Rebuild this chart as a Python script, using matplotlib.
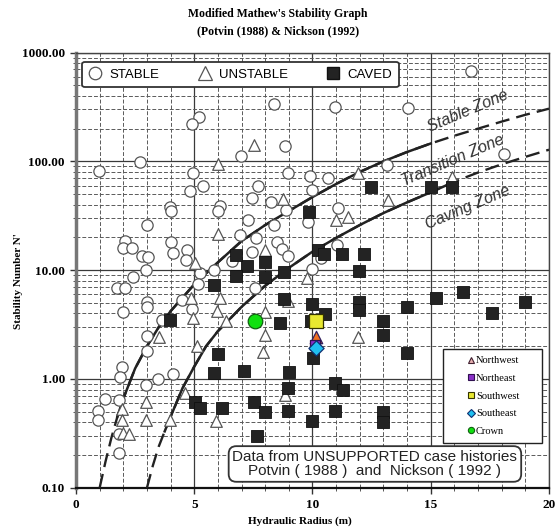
import matplotlib
matplotlib.use('Agg')
import matplotlib.pyplot as plt
from matplotlib.lines import Line2D
from matplotlib.patches import Rectangle
from matplotlib.ticker import LogLocator, NullFormatter, FixedLocator
from matplotlib.font_manager import FontProperties

# ---------------- data ----------------
stable_hr = [5.21, 4.9, 2.71, 0.99, 4.96, 5.38, 4.82, 6.99, 8.37, 10.95, 14.03, 8.84, 8.98, 9.9,
             10.64, 13.14, 7.71, 9.97, 7.45, 16.7, 18.1, 8.25, 6.08, 6.02, 3.97, 4.0, 8.87, 3.0,
             7.29, 6.95, 7.6, 8.37, 8.48, 8.72, 8.98, 7.43, 6.6, 2.07, 1.97, 2.38, 4.0, 4.09,
             2.78, 3.06, 4.68, 4.64, 2.96, 2.4, 1.72, 2.07, 5.24, 5.85, 5.15, 2.99, 2.99, 2.0,
             4.5, 4.92, 3.62, 2.99, 3.0, 7.57, 9.82, 11.06, 11.02, 10.36, 9.96, 1.93, 1.86, 2.96,
             3.48, 4.11, 1.23, 1.83, 0.94, 0.94, 1.83, 1.83]
stable_n = [257, 220, 98, 82, 79, 60, 53, 112, 337, 314, 308, 139, 79, 73,
            71, 92, 60, 54, 46, 680, 116, 42, 39, 35, 38, 35, 35.5, 26,
            29, 21, 19.6, 26, 18.1, 15.6, 13.5, 14.8, 12.1, 18.6, 16, 16, 18.3, 14.3,
            13.4, 13.1, 15.3, 12.3, 10, 8.7, 6.8, 6.8, 9.4, 10.1, 7.4, 5.1, 4.6, 4.15,
            5.3, 4.4, 3.5, 2.5, 1.82, 6.9, 28, 37.5, 17, 12.9, 10.3, 1.28, 1.04, 0.88,
            1.0, 1.1, 0.66, 0.64, 0.51, 0.42, 0.21, 0.31]

unstable_hr = [5.99, 7.54, 11.94, 8.77, 13.2, 15.9, 10.98, 11.51, 7.99, 9.75, 7.99, 7.99,
               11.94, 8.97, 6.02, 5.03, 4.86, 6.09, 5.95, 6.33, 4.96, 3.5, 5.1, 7.92, 1.93,
               1.93, 2.0, 2.26, 2.96, 2.96, 3.97, 4.61, 5.9, 8.84]
unstable_n = [94, 141, 78, 45, 44, 72, 29, 31, 15.4, 8.4, 4.15, 2.54,
              2.45, 5.2, 21.6, 11.6, 5.6, 5.6, 4.2, 3.4, 3.6, 2.45, 2.0, 1.78, 0.53,
              0.42, 0.32, 0.31, 0.62, 0.42, 0.42, 0.74, 0.41, 0.71]

caved_hr = [12.47, 15.0, 15.9, 16.38, 18.98, 17.6, 15.22, 13.98, 9.85, 10.22, 10.47, 11.26,
            12.18, 11.98, 7.99, 7.25, 7.99, 8.81, 8.78, 9.99, 10.53, 11.98, 11.98, 8.63, 9.92,
            12.97, 12.97, 6.75, 6.78, 5.83, 3.97, 6.02, 5.83, 7.1, 5.03, 5.24, 6.16, 10.03,
            13.98, 9.0, 8.98, 10.95, 11.3, 7.54, 7.99, 8.95, 10.95, 10.0, 12.97, 12.97, 7.64]
caved_n = [58, 58, 58, 6.3, 5.1, 4.0, 5.5, 4.6, 34.5, 15.3, 14.0, 14.0,
           14.0, 9.8, 12.0, 11.0, 8.7, 9.6, 5.4, 4.9, 3.96, 5.1, 4.3, 3.25, 3.4,
           3.4, 2.54, 13.9, 8.85, 7.3, 3.5, 1.7, 1.14, 1.18, 0.62, 0.54, 0.54, 1.55,
           1.75, 1.17, 0.82, 0.92, 0.79, 0.62, 0.5, 0.51, 0.51, 0.41, 0.5, 0.4, 0.3]

# site observations
site_names = ['Northwest', 'Northeast', 'Southwest', 'Southeast', 'Crown']
site_hr = [10.13, 10.1, 10.13, 10.13, 7.57]
site_n = [2.45, 2.05, 3.44, 1.91, 3.4]

# zone boundary curves
upper_hr = [1.0, 1.25, 1.5, 1.75, 2.0, 2.5, 3.0, 3.5, 4.0, 5.0, 6.0, 7.0, 8.0, 9.0, 10.0,
            11.0, 12.0, 13.0, 14.0, 15.0, 16.0, 17.0, 18.0, 19.0, 20.0]
upper_n = [0.10, 0.175, 0.29, 0.45, 0.66, 1.25, 2.0, 3.0, 4.2, 7.4, 11.8, 18.5, 26, 35, 47,
           62, 80, 100, 122, 146, 172, 200, 232, 268, 305]
lower_hr = [3.0, 3.25, 3.5, 3.75, 4.0, 4.5, 5.0, 5.5, 6.0, 7.0, 8.0, 9.0, 10.0, 11.0, 12.0,
            13.0, 14.0, 15.0, 16.0, 17.0, 18.0, 19.0, 20.0]
lower_n = [0.10, 0.16, 0.24, 0.33, 0.45, 0.82, 1.3, 2.0, 2.75, 4.6, 7.2, 10.5, 14.8, 19.8,
           26, 33.5, 42, 52, 65, 79, 94, 110, 128]

y_tick_vals = [0.1, 1, 10, 100, 1000]
y_tick_labels = ['0.10', '1.00', '10.00', '100.00', '1000.00']
x_tick_vals = [0, 5, 10, 15, 20]
x_tick_labels = ['0', '5', '10', '15', '20']

# ---------------- figure ----------------
SERIF = 'Liberation Serif'
SANS = 'Liberation Sans'

fig = plt.figure(figsize=(5.56, 5.31), dpi=100)
ax = fig.add_axes([0.1367, 0.0814, 0.8507, 0.8196])
ax.set_yscale('log')
ax.set_xlim(0, 20)
ax.set_ylim(0.1, 1000)

ax.set_xticks(x_tick_vals)
ax.set_xticklabels(x_tick_labels)
ax.xaxis.set_minor_locator(FixedLocator(list(range(0, 21))))
ax.set_yticks(y_tick_vals)
ax.set_yticklabels(y_tick_labels)
ax.yaxis.set_minor_locator(LogLocator(base=10, subs=range(2, 10)))
ax.yaxis.set_minor_formatter(NullFormatter())

ax.grid(which='major', color='#3a3a3a', lw=0.9, ls='-')
ax.grid(which='minor', color='#5a5a5a', lw=0.7, ls=(0, (4, 2)))
ax.set_axisbelow(True)

ax.tick_params(which='major', direction='out', length=4, width=1, color='#333', pad=4)
ax.tick_params(which='minor', direction='out', length=2, width=0.7, color='#555')
for lbl in ax.get_xticklabels() + ax.get_yticklabels():
    lbl.set_fontfamily(SERIF)
    lbl.set_fontweight('bold')
    lbl.set_fontsize(9.5)

ax.spines['left'].set_color('#777777')
ax.spines['left'].set_linewidth(2.5)
ax.spines['bottom'].set_color('#111111')
ax.spines['bottom'].set_linewidth(1.6)
for s in ('top', 'right'):
    ax.spines[s].set_color('#444444')
    ax.spines[s].set_linewidth(1.0)

# zone curves: dashed full, solid middle
ax.plot(upper_hr, upper_n, color='#222', lw=1.7, ls=(0, (6, 3)), zorder=3)
ax.plot(lower_hr, lower_n, color='#222', lw=1.7, ls=(0, (6, 3)), zorder=3)
us = [(h, n) for h, n in zip(upper_hr, upper_n) if 1.75 <= h <= 15.0]
ls_ = [(h, n) for h, n in zip(lower_hr, lower_n) if 3.75 <= h <= 16.0]
ax.plot([p[0] for p in us], [p[1] for p in us], color='#222', lw=1.8, zorder=3.1)
ax.plot([p[0] for p in ls_], [p[1] for p in ls_], color='#222', lw=1.8, zorder=3.1)

# data points
ax.scatter(stable_hr, stable_n, s=66, marker='o', facecolor='white', edgecolor='#555',
           linewidths=0.9, zorder=4)
ax.scatter(unstable_hr, unstable_n, s=70, marker='^', facecolor='white', edgecolor='#555',
           linewidths=0.9, zorder=4.2)
ax.scatter(caved_hr, caved_n, s=72, marker='s', facecolor='#232323', edgecolor='#111',
           linewidths=0.6, zorder=4.4)

site_style = {
    'Northwest': dict(marker='^', s=80, fc='#f07020', ec='#302060'),
    'Northeast': dict(marker='s', s=60, fc='#8a30c8', ec='#301050'),
    'Southwest': dict(marker='s', s=110, fc='#e8e830', ec='#333300'),
    'Southeast': dict(marker='D', s=60, fc='#20c0f0', ec='#103070'),
    'Crown': dict(marker='o', s=110, fc='#10e010', ec='#106010'),
}
order = ['Southwest', 'Northwest', 'Northeast', 'Southeast', 'Crown']
for nm in order:
    i = site_names.index(nm)
    st = site_style[nm]
    ax.scatter([site_hr[i]], [site_n[i]], marker=st['marker'], s=st['s'], facecolor=st['fc'],
               edgecolor=st['ec'], linewidths=0.9, zorder=5)

# top legend
h1 = [Line2D([], [], ls='', marker='o', ms=9, mfc='white', mec='#555', mew=0.9),
      Line2D([], [], ls='', marker='^', ms=10, mfc='white', mec='#555', mew=0.9),
      Line2D([], [], ls='', marker='s', ms=9, mfc='#232323', mec='#111')]
leg1 = ax.legend(h1, ['STABLE', 'UNSTABLE', 'CAVED'], loc='upper left',
                 bbox_to_anchor=(0.013, 0.979), ncol=3, frameon=True, fancybox=True,
                 prop=FontProperties(family=SANS, size=9.5), columnspacing=2.9,
                 handletextpad=0.6, borderpad=0.5, handlelength=1.0, borderaxespad=0)
fr = leg1.get_frame()
fr.set_edgecolor('#333')
fr.set_linewidth(1.3)
fr.set_facecolor('white')
fr.set_alpha(1)
leg1.set_zorder(6)
ax.add_artist(leg1)

# site legend: framed box + entries
ax.add_patch(Rectangle((0.776, 0.103), 0.209, 0.216, transform=ax.transAxes,
                       facecolor='white', edgecolor='#222', lw=1.0, zorder=5.9))
h2 = [Line2D([], [], ls='', marker='^', ms=4.5, mfc='#e8b0b0', mec='#402030', mew=0.8)]
for nm in site_names[1:]:
    st = site_style[nm]
    h2.append(Line2D([], [], ls='', marker=st['marker'], ms=4.5 if st['marker'] != 'D' else 3.8,
                     mfc=st['fc'], mec=st['ec'], mew=0.8))
leg2 = ax.legend(h2, site_names, loc='center', bbox_to_anchor=(0.883, 0.211),
                 frameon=False, prop=FontProperties(family=SERIF, size=7.5),
                 labelspacing=0.8, handlelength=0.6, handletextpad=0.15, borderpad=0.2,
                 borderaxespad=0)
leg2.set_zorder(6)

# bottom note
ax.text(0.632, 0.0547, 'Data from UNSUPPORTED case histories\nPotvin ( 1988 )  and  Nickson ( 1992 )',
        transform=ax.transAxes, ha='center', va='center', fontsize=11, family=SANS,
        color='#222', linespacing=1.0, zorder=6,
        bbox=dict(boxstyle='round,pad=0.25,rounding_size=0.5', fc='white', ec='#333', lw=1.3))

# zone labels
for txt, x, y in [('Stable Zone', 0.829, 0.865), ('Transition Zone', 0.797, 0.752),
                  ('Caving Zone', 0.828, 0.645)]:
    ax.text(x, y, txt, transform=ax.transAxes, ha='center', va='center', fontsize=11.5,
            family=SANS, style='italic', color='#333', rotation=23, zorder=6)

# titles and axis labels
fig.text(0.5, 0.973, "Modified Mathew's Stability Graph", ha='center', va='center',
         family=SERIF, weight='bold', fontsize=8.5)
fig.text(0.5, 0.941, '(Potvin (1988) & Nickson (1992)', ha='center', va='center',
         family=SERIF, weight='bold', fontsize=8.5)
fig.text(0.54, 0.018, 'Hydraulic Radius (m)', ha='center', va='center',
         family=SERIF, weight='bold', fontsize=8)
fig.text(0.033, 0.47, "Stability Number N'", ha='center', va='center', rotation=90,
         family=SERIF, weight='bold', fontsize=8)

fig.savefig('out.png', dpi=100)
